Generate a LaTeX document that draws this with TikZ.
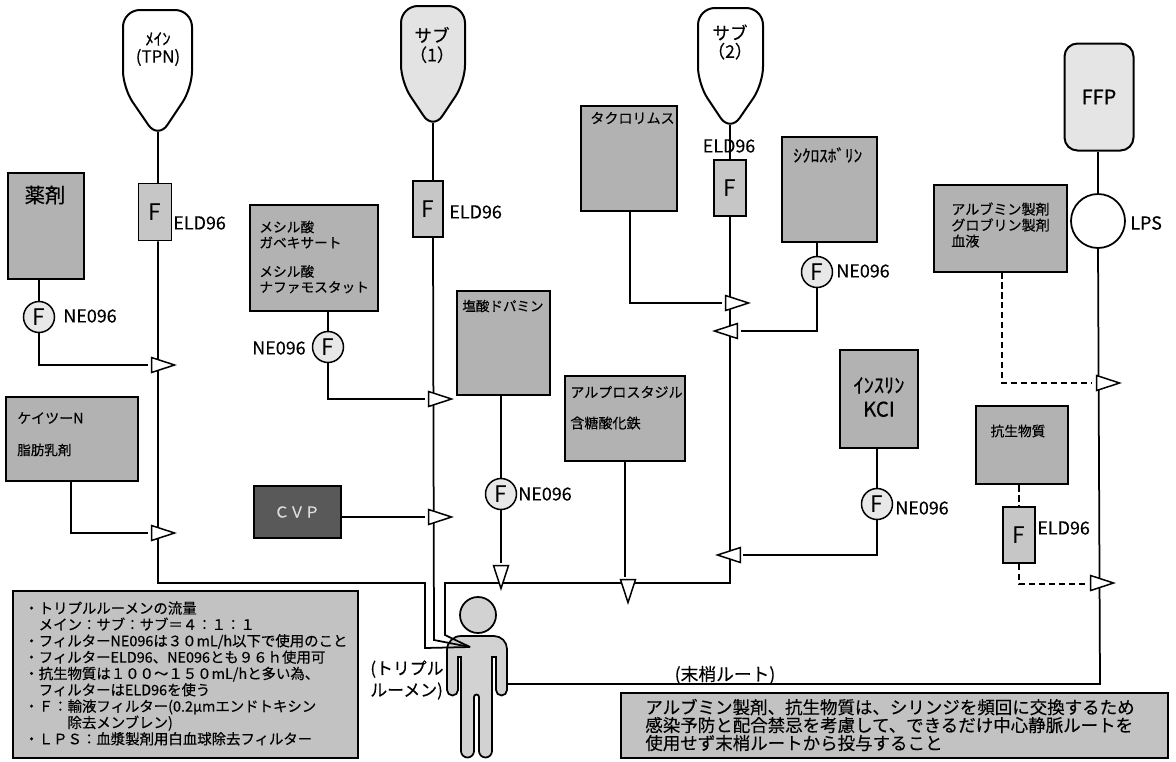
\documentclass[tikz,border=0pt]{standalone}
\usepackage{fontspec}
\setmainfont[FakeBold=0.3]{Noto Sans CJK JP}
\newfontfamily\thinfont{Noto Sans CJK JP}
\usepackage{xcolor}
\usepackage{tikz}
\usetikzlibrary{shapes.geometric,positioning}

\begin{document}
\begin{tikzpicture}[
    x=0.02cm, y=-0.02cm,
    pipe/.style={draw, line width=0.35mm},
    dashpipe/.style={draw, line width=0.35mm, dash pattern=on 1.3mm off 0.7mm},
    drugbox/.style 2 args={draw, line width=0.4mm, fill=gray!60, inner sep=0pt, minimum width=#1*0.02cm, minimum height=#2*0.02cm},
    notebox/.style 2 args={draw, line width=0.35mm, fill=gray!48, inner sep=0pt, minimum width=#1*0.02cm, minimum height=#2*0.02cm},
    fbox/.style 2 args={draw, line width=0.35mm, fill=gray!45, inner sep=0pt, minimum width=#1*0.02cm, minimum height=#2*0.02cm, font=\thinfont\fontsize{13pt}{14pt}\selectfont},
    fcirc/.style={draw, circle, line width=0.3mm, fill=gray!18, inner sep=0pt, minimum size=6.2mm, font=\thinfont\fontsize{13pt}{14pt}\selectfont},
    filterlbl/.style={font=\fontsize{10.2pt}{11pt}\selectfont},
    boxtxt/.style={font=\fontsize{8pt}{9.1pt}\selectfont, anchor=west, align=left, inner sep=0pt},
    tipr/.style={draw, fill=white, line width=0.3mm, isosceles triangle, isosceles triangle stretches, inner sep=0pt, minimum height=4.6mm, minimum width=3mm},
    tipl/.style={tipr, shape border rotate=180},
    tipd/.style={tipr, shape border rotate=-90}
]
\useasboundingbox (0,0) rectangle (1176,761);

% Patient figure
\node[draw, circle, line width=0.35mm, fill=gray!35, inner sep=0pt, minimum size=7.2mm] (head) at (478,615) {};
\draw[line width=0.35mm, fill=gray!35]
     (461,636) -- (494,636) arc (-90:0:13) -- (507,690) arc (0:180:5.5) -- (496,657)
     -- (492,657) -- (492,751) arc (0:180:6.5) -- (479,697)
     arc (0:-180:2.5) -- (474,751) arc (0:180:6.5) -- (461,657) -- (458,657) -- (458,690)
     arc (0:180:5.5) -- (447,650) arc (180:270:14) -- cycle;

% Bags
\draw[line width=0.4mm, fill=white, rounded corners=3.4mm]
     (123,50) -- (123,10) -- (192,10) -- (192,88) -- (158,139) -- (123,88) -- cycle;
\draw[line width=0.4mm, fill=gray!22, rounded corners=3.4mm]
     (401,45) -- (401,6) -- (465,6) -- (465,82) -- (433,130) -- (401,82) -- cycle;
\draw[line width=0.4mm, fill=white, rounded corners=3.4mm]
     (698,45) -- (698,8) -- (763,8) -- (763,84) -- (730,132) -- (698,84) -- cycle;
\node[font=\fontsize{9.6pt}{10pt}\selectfont, align=center] (mainbag) at (158,49) {ﾒｲﾝ\\(TPN)};
\node[font=\fontsize{10pt}{11pt}\selectfont, align=center] (subone) at (432,45) {サブ\\（1）};
\node[font=\fontsize{10pt}{10.4pt}\selectfont, align=center] (subtwo) at (730,42) {サブ\\（2）};
\coordinate (mainneck) at (158,132);
\coordinate (suboneneck) at (433,123);
\coordinate (subtwoneck) at (730,125);
\node[draw, line width=0.4mm, rounded corners=2.6mm, fill=gray!20, minimum width=69*0.02cm, minimum height=107*0.02cm, inner sep=0pt, font=\fontsize{11.3pt}{12pt}\selectfont] (ffp) at (1099,97) {FFP};

% Drug boxes
\node[drugbox={76}{106}] (yakuzai) at (46,226) {};
\node[font=\fontsize{11.6pt}{12pt}\selectfont] (yakuzaitxt) at (45,195) {薬剤};
\node[drugbox={132}{84}] (keitsu) at (72,439) {};
\node[boxtxt] (keitsutxt) at (17,418) {ケイツーN};
\node[boxtxt, font=\fontsize{7.7pt}{9pt}\selectfont] (shibotxt) at (17,450) {脂肪乳剤};
\node[drugbox={128}{106}] (mesil) at (314,258) {};
\node[boxtxt, font=\fontsize{7.8pt}{8.9pt}\selectfont] (mesiltxt) at (259,257) {メシル酸\\ガベキサート\\[7.5pt]メシル酸\\ナファモスタット};
\node[draw, line width=0.4mm, fill=gray!70!black, inner sep=0pt, minimum width=87*0.02cm, minimum height=52*0.02cm, text=gray!25, font=\fontsize{8.6pt}{9pt}\selectfont] (cvp) at (297,512) {ＣＶＰ};
\node[drugbox={93}{104}] (dopamin) at (503,343) {};
\node[boxtxt, font=\fontsize{7.7pt}{9pt}\selectfont] (dopamintxt) at (462,306) {塩酸ドパミン};
\node[drugbox={120}{85}] (alpro) at (625,418) {};
\node[boxtxt] (alprotxt) at (570,392) {アルプロスタジル};
\node[boxtxt] (gantotxt) at (570,423) {含糖酸化鉄};
\node[drugbox={96}{105}] (tacro) at (629,158) {};
\node[boxtxt] (tacrotxt) at (590,118) {タクロリムス};
\node[drugbox={95}{105}] (ciclo) at (829,189) {};
\node[boxtxt, font=\fontsize{9.8pt}{10pt}\selectfont] (ciclotxt) at (793,155) {ｼｸﾛｽﾎﾞﾘﾝ};
\node[drugbox={78}{98}] (insulin) at (879,399) {};
\node[font=\fontsize{11.6pt}{13.6pt}\selectfont, align=center] (insulintxt) at (879,397) {ｲﾝｽﾘﾝ\\KCI};
\node[drugbox={133}{87}] (albumin) at (1000,228) {};
\node[boxtxt] (albumintxt) at (951,225) {アルブミン製剤\\グロブリン製剤\\血液};
\node[drugbox={92}{78}] (kosei) at (1022,445) {};
\node[font=\fontsize{7.8pt}{9pt}\selectfont] (koseitxt) at (1018,431) {抗生物質};

% Filters
\node[fbox={33}{57}] (mainf) at (155,212) {F};
\node[filterlbl, anchor=west, inner sep=0pt] (mainfl) at (173,223) {ELD96};
\node[fbox={30}{56}] (subonef) at (428,209) {F};
\node[filterlbl, anchor=west, inner sep=0pt] (subonefl) at (449,212) {ELD96};
\node[fbox={32}{56}] (subtwof) at (730,188) {F};
\node[filterlbl, inner sep=0pt] (subtwofl) at (729,146) {ELD96};
\node[fbox={32}{56}] (koseif) at (1019,535) {F};
\node[filterlbl, anchor=west, inner sep=0pt] (koseifl) at (1037,528) {ELD96};
\node[fcirc] (yakuzaif) at (39,317) {F};
\node[filterlbl, anchor=west, inner sep=0pt] (yakuzaifl) at (63,316) {NE096};
\node[fcirc] (mesilf) at (328,347) {F};
\node[filterlbl, anchor=east, inner sep=0pt] (mesilfl) at (306,348) {NE096};
\node[fcirc] (dopaminf) at (501,494) {F};
\node[filterlbl, anchor=west, inner sep=0pt] (dopaminfl) at (518,494) {NE096};
\node[fcirc] (ciclof) at (817,272) {F};
\node[filterlbl, anchor=west, inner sep=0pt] (ciclofl) at (836,271) {NE096};
\node[fcirc] (insulinf) at (877,504) {F};
\node[filterlbl, anchor=west, inner sep=0pt] (insulinfl) at (895,508) {NE096};
\node[draw, circle, line width=0.35mm, fill=white, inner sep=0pt, minimum size=10.8mm] (lps) at (1098,221) {};
\node[filterlbl, anchor=west, inner sep=0pt] (lpsl) at (1130,223) {LPS};

% Bends and the catheter port
\coordinate (port) at (470,647);
\coordinate (mainbend) at (425,583);
\coordinate (mainknee) at (425,648);
\coordinate (suboneknee) at (434,640);
\coordinate (subtwobend) at (445,583);
\coordinate (subtwoknee) at (445,635);
\coordinate (arm) at (507,684);
\coordinate (periph) at (1100,684);

% Main lines
\draw[pipe] (mainneck) -- (mainneck |- mainf.north);
\draw[pipe] (mainneck |- mainf.south) |- (mainbend) -- (mainknee) -- (port);
\draw[pipe] (suboneneck) -- (suboneneck |- subonef.north);
\draw[pipe] (suboneneck |- subonef.south) -- (suboneknee) -- (port);
\draw[pipe] (subtwoneck) -- (subtwof.north);
\draw[pipe] (subtwof.south) |- (subtwobend) -- (subtwoknee) -- (port);
\draw[pipe] (ffp.south -| lps) -- (lps.north);
\draw[pipe] (lps.south) -- (periph) -- (arm);

% Side lines
\draw[pipe] (yakuzai.south -| yakuzaif) -- (yakuzaif);
\draw[pipe] (yakuzaif.south) |- (148,365);
\draw[pipe] (71,481) |- (148,533);
\draw[pipe] (mesil.south -| mesilf) -- (mesilf);
\draw[pipe] (mesilf.south) |- (425,399);
\draw[pipe] (cvp.east |- 0,517) -- (425,517);
\draw[pipe] (dopamin.south -| dopaminf) -- (dopaminf);
\draw[pipe] (dopaminf.south) -- (501,563);
\draw[pipe] (alpro.south) -- (625,577);
\draw[pipe] (630,210) |- (722,303);
\draw[pipe] (ciclo.south -| ciclof) -- (ciclof);
\draw[pipe] (ciclof.south) |- (741,331);
\draw[pipe] (insulin.south -| insulinf) -- (insulinf);
\draw[pipe] (insulinf.south) |- (743,555);
\draw[dashpipe] (1002,272) |- (1092,383);
\draw[dashpipe] (kosei.south -| koseif) -- (koseif.north);
\draw[dashpipe] (koseif.south) |- (1086,584);

% Arrow heads sit on top of the lines
\node[tipr] (tipyakuzai) at (157,365) {};
\node[tipr] (tipkeitsu) at (157,533) {};
\node[tipr] (tipmesil) at (434,399) {};
\node[tipr] (tipcvp) at (434,517) {};
\node[tipd] (tipdopamin) at (501,571) {};
\node[tipd] (tipalpro) at (628,585) {};
\node[tipr] (tiptacro) at (731,303) {};
\node[tipl] (tipciclo) at (732,331) {};
\node[tipl] (tipinsulin) at (735,555) {};
\node[tipr] (tipalbumin) at (1102,383) {};
\node[tipr] (tipkosei) at (1096,583) {};

% Patient and route labels
\node[font=\fontsize{9.6pt}{12.4pt}\selectfont, align=left, anchor=west, inner sep=0pt] (lumen) at (370,680) {(トリプル\\ルーメン)};
\node[font=\fontsize{10.1pt}{11pt}\selectfont] (periphl) at (725,675) {(末梢ルート)};

% Notes
\node[notebox={345}{167}] (legend) at (185.5,674.5) {};
\node[font=\fontsize{8.2pt}{9.3pt}\selectfont, align=left, anchor=west, inner sep=0pt] (legendtxt) at (24,673.5)
     {・トリプルルーメンの流量\\
      　メイン：サブ：サブ＝４：１：１\\
      ・フィルターNE096は３０mL/h以下で使用のこと\\
      ・フィルターELD96、NE096とも９６ｈ使用可\\
      ・抗生物質は１００～１５０mL/hと多い為、\\
      　フィルターはELD96を使う\\
      ・Ｆ：輸液フィルター(0.2μmエンドトキシン\\
      　　　除去メンブレン)\\
      ・ＬＰＳ：血漿製剤用白血球除去フィルター};
\node[notebox={547}{65}] (advice) at (894.5,725.5) {};
\node[font=\fontsize{9.95pt}{10.2pt}\selectfont, align=left, anchor=west, inner sep=0pt] (advicetxt) at (645,725)
     {アルブミン製剤、抗生物質は、シリンジを頻回に交換するため\\
      感染予防と配合禁忌を考慮して、できるだけ中心静脈ルートを\\
      使用せず末梢ルートから投与すること};
\end{tikzpicture}
\end{document}
